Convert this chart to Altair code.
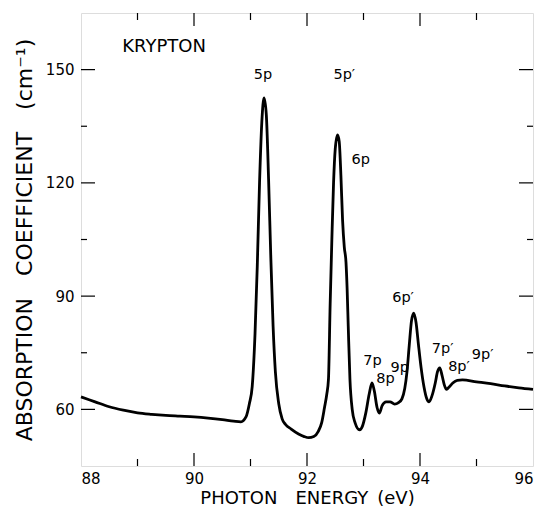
import altair as alt
import pandas as pd

# Spectrum trace (photon energy in eV, absorption coefficient in cm^-1)
energy = [88.0, 88.25, 88.5, 88.75, 89.0, 89.25, 89.5, 89.75, 90.0, 90.25, 90.5, 90.7,
          90.83, 90.92, 90.98, 91.03, 91.08, 91.12, 91.16, 91.2, 91.24, 91.28, 91.32,
          91.36, 91.40, 91.44, 91.50, 91.56, 91.62, 91.72, 91.85, 91.95, 92.03, 92.12,
          92.20, 92.26, 92.31, 92.35, 92.38, 92.41, 92.44, 92.47, 92.50, 92.54, 92.57,
          92.60, 92.63, 92.66, 92.69, 92.71, 92.73, 92.76, 92.80, 92.85, 92.93, 92.98,
          93.04, 93.10, 93.15, 93.19, 93.24, 93.28, 93.33, 93.40, 93.47, 93.55, 93.62,
          93.68, 93.73, 93.77, 93.81, 93.85, 93.89, 93.93, 93.97, 94.02, 94.07, 94.12,
          94.16, 94.21, 94.27, 94.31, 94.35, 94.39, 94.43, 94.47, 94.52, 94.58, 94.66,
          94.75, 95.0, 95.25, 95.5, 95.75, 96.0]
absorption = [63.3, 62.0, 60.7, 59.8, 59.1, 58.7, 58.4, 58.2, 58.0, 57.7, 57.3, 56.9,
              56.7, 58.0, 61.5, 66.0, 80.0, 98.0, 120.0, 136.0, 142.5, 138.0, 121.0,
              100.0, 82.0, 70.0, 61.5, 57.5, 56.0, 54.8, 53.5, 52.8, 52.5, 52.8,
              54.2, 56.5, 60.5, 64.0, 68.0, 88.0, 105.0, 120.0, 129.0, 132.7, 131.0,
              122.0, 110.0, 103.0, 99.0, 92.0, 82.0, 68.0, 60.0, 56.5, 54.6, 55.5,
              59.0, 64.0, 67.0, 65.0, 60.5, 59.0, 61.0, 62.0, 62.0, 61.4, 61.8,
              62.8, 65.5, 70.0, 77.0, 83.5, 85.5, 83.0, 77.5, 71.0, 66.0, 62.8,
              62.0, 63.5, 67.0, 70.0, 71.0, 69.0, 66.5, 65.3, 66.0, 67.0, 67.7,
              67.8, 67.3, 66.8, 66.2, 65.7, 65.3]

# Peak annotations
peak_labels = ["5p", "5p\u2032", "6p", "7p", "8p", "9p", "6p\u2032", "7p\u2032", "8p\u2032", "9p\u2032"]
peak_x = [91.22, 92.66, 92.95, 93.16, 93.39, 93.64, 93.70, 94.40, 94.69, 95.11]
peak_y = [148.6, 148.6, 126.0, 72.8, 68.0, 71.0, 89.5, 76.0, 71.3, 74.4]

x_tick_labels = [88, 90, 92, 94, 96]
y_tick_labels = [60, 90, 120, 150]
x_major = [90, 92, 94]
x_minor = [89, 91, 93, 95]
y_major = [60, 90, 120, 150]
y_minor = [75, 105, 135]

W, H = 452, 453
FONT = "DejaVu Sans"

xscale = alt.Scale(domain=[88, 96], nice=False, zero=False)
yscale = alt.Scale(domain=[45, 165], nice=False, zero=False)

curve_df = pd.DataFrame({"e": energy, "a": absorption})
lab_df = pd.DataFrame({"t": peak_labels, "e": peak_x, "a": peak_y})

xaxis = alt.Axis(values=x_tick_labels, format="d", ticks=False, domain=False, grid=False,
                 labelFont=FONT, labelFontSize=15, labelColor="black", labelPadding=5,
                 title="PHOTON\u2003ENERGY\u2002(eV)", titleFont=FONT, titleFontSize=18,
                 titleFontWeight="normal", titleColor="black", titlePadding=3)
yaxis = alt.Axis(values=y_tick_labels, format="d", ticks=False, domain=False, grid=False,
                 labelFont=FONT, labelFontSize=15, labelColor="black", labelPadding=7,
                 title="ABSORPTION\u2003COEFFICIENT\u2003(cm\u207b\u00b9)", titleFont=FONT,
                 titleFontSize=22, titleFontWeight="normal", titleColor="black", titlePadding=9)

line = alt.Chart(curve_df).mark_line(color="black", strokeWidth=2.8, interpolate="monotone").encode(
    x=alt.X("e:Q", scale=xscale, axis=xaxis),
    y=alt.Y("a:Q", scale=yscale, axis=yaxis),
)

labels = alt.Chart(lab_df).mark_text(font=FONT, fontSize=14.5, color="black", align="center",
                                     baseline="middle").encode(
    x=alt.X("e:Q", scale=xscale), y=alt.Y("a:Q", scale=yscale), text="t:N")

title_df = pd.DataFrame({"t": ["KRYPTON"], "e": [88.73], "a": [156.0]})
krypton = alt.Chart(title_df).mark_text(font=FONT, fontSize=18, color="black", align="left",
                                        baseline="middle").encode(
    x=alt.X("e:Q", scale=xscale), y=alt.Y("a:Q", scale=yscale), text="t:N")


def xticks(vals, length):
    d = pd.DataFrame({"v": vals})
    b = alt.Chart(d).mark_rule(color="black", strokeWidth=1.2).encode(
        x=alt.X("v:Q", scale=xscale), y=alt.value(H), y2=alt.value(H - length))
    t = alt.Chart(d).mark_rule(color="black", strokeWidth=1.2).encode(
        x=alt.X("v:Q", scale=xscale), y=alt.value(0), y2=alt.value(length))
    return [b, t]


def yticks(vals, length):
    d = pd.DataFrame({"v": vals})
    l = alt.Chart(d).mark_rule(color="black", strokeWidth=1.2).encode(
        y=alt.Y("v:Q", scale=yscale), x=alt.value(0), x2=alt.value(length))
    r = alt.Chart(d).mark_rule(color="black", strokeWidth=1.2).encode(
        y=alt.Y("v:Q", scale=yscale), x=alt.value(W), x2=alt.value(W - length))
    return [l, r]


layers = [line] + xticks(x_major, 13) + xticks(x_minor, 7) + yticks(y_major, 14) + \
    yticks(y_minor, 6) + [labels, krypton]

chart = alt.layer(*layers).properties(
    width=W, height=H,
    autosize=alt.AutoSizeParams(type="none"),
    padding={"left": 73, "top": 5, "right": 6, "bottom": 42},
).configure_view(stroke="black", strokeWidth=1.5).configure(background="white")

chart.save("out.html", embed_options={"renderer": "svg", "actions": False})
